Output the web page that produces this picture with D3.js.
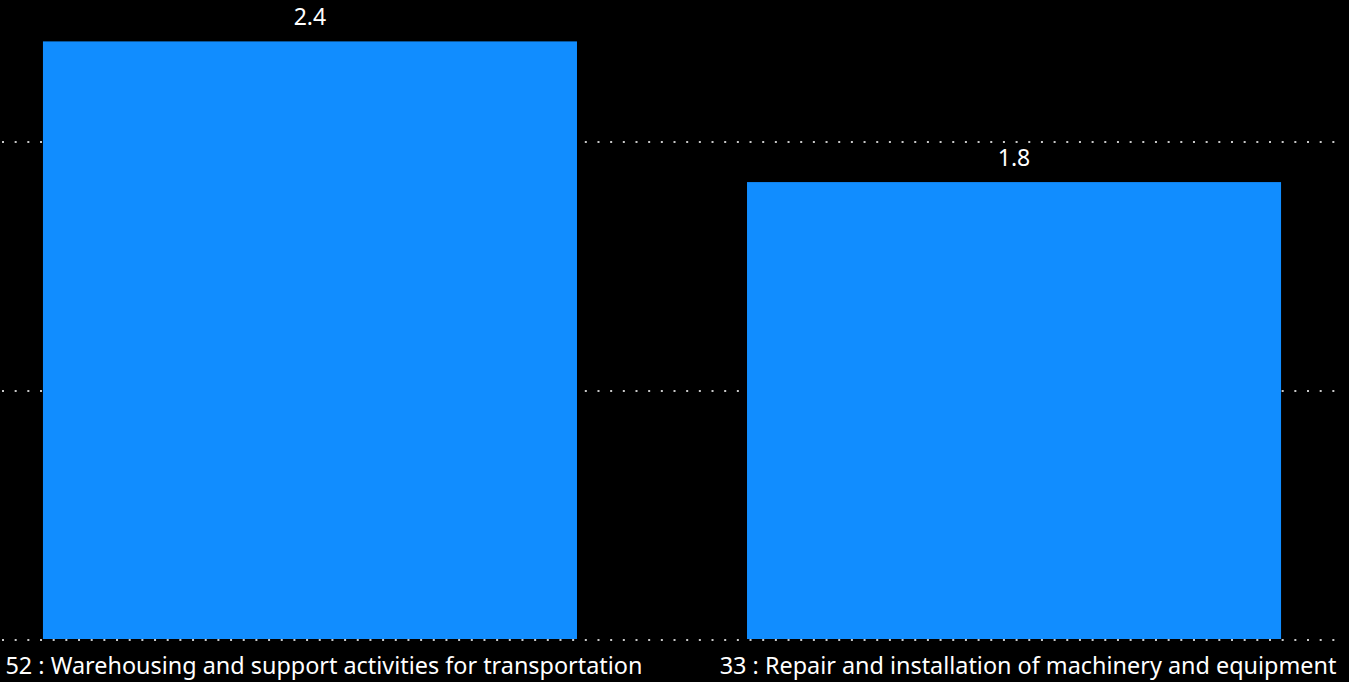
<!DOCTYPE html>
<html>
<head>
<meta charset="utf-8">
<script src="https://cdn.jsdelivr.net/npm/d3@7"></script>
<style>
  html, body { margin: 0; padding: 0; background: #000; }
  svg { display: block; }
  text { font-family: "Segoe UI", "Noto Sans", sans-serif; fill: #fff; }
</style>
</head>
<body>
<svg id="chart" width="1349" height="682"></svg>
<script>
// data
const categories = ["52 : Warehousing and support activities for transportation",
                    "33 : Repair and installation of machinery and equipment"];
const values = [2.4, 1.835];
const gridTicks = [0, 1, 2];

const width = 1349, height = 682;
const svg = d3.select("#chart");

svg.append("rect").attr("width", width).attr("height", height).attr("fill", "#000");

const x = d3.scaleBand()
            .domain(categories)
            .range([0, 1324])
            .paddingInner(0.2415)
            .paddingOuter(0.061);

const y = d3.scaleLinear()
            .domain([0, 2.4])
            .range([639, 639 - 2.4 * 249]);

// dotted gridlines
svg.append("g")
   .selectAll("line")
   .data(gridTicks)
   .join("line")
   .attr("x1", 2)
   .attr("x2", 1342)
   .attr("y1", d => Math.round(y(d)) + 1)
   .attr("y2", d => Math.round(y(d)) + 1)
   .attr("stroke", "#c8c8c8")
   .attr("stroke-width", 2)
   .attr("stroke-dasharray", "2,10.67");

const data = categories.map((c, i) => ({ cat: c, val: values[i] }));

svg.append("g")
   .selectAll("rect")
   .data(data)
   .join("rect")
   .attr("x", d => x(d.cat))
   .attr("y", d => y(d.val))
   .attr("width", x.bandwidth())
   .attr("height", d => y(0) - y(d.val))
   .attr("fill", "#118DFF");

// value labels
svg.append("g")
   .selectAll("text")
   .data(data)
   .join("text")
   .attr("x", d => x(d.cat) + x.bandwidth() / 2)
   .attr("y", d => y(d.val) - 16)
   .attr("text-anchor", "middle")
   .style("font-size", "23px")
   .text(d => d3.format(".1f")(d.val));

// category labels
svg.append("g")
   .selectAll("text")
   .data(data)
   .join("text")
   .attr("x", d => x(d.cat) + x.bandwidth() / 2 + 14)
   .attr("y", 674)
   .attr("text-anchor", "middle")
   .style("font-size", "23.4px")
   .text(d => d.cat);
</script>
</body>
</html>
